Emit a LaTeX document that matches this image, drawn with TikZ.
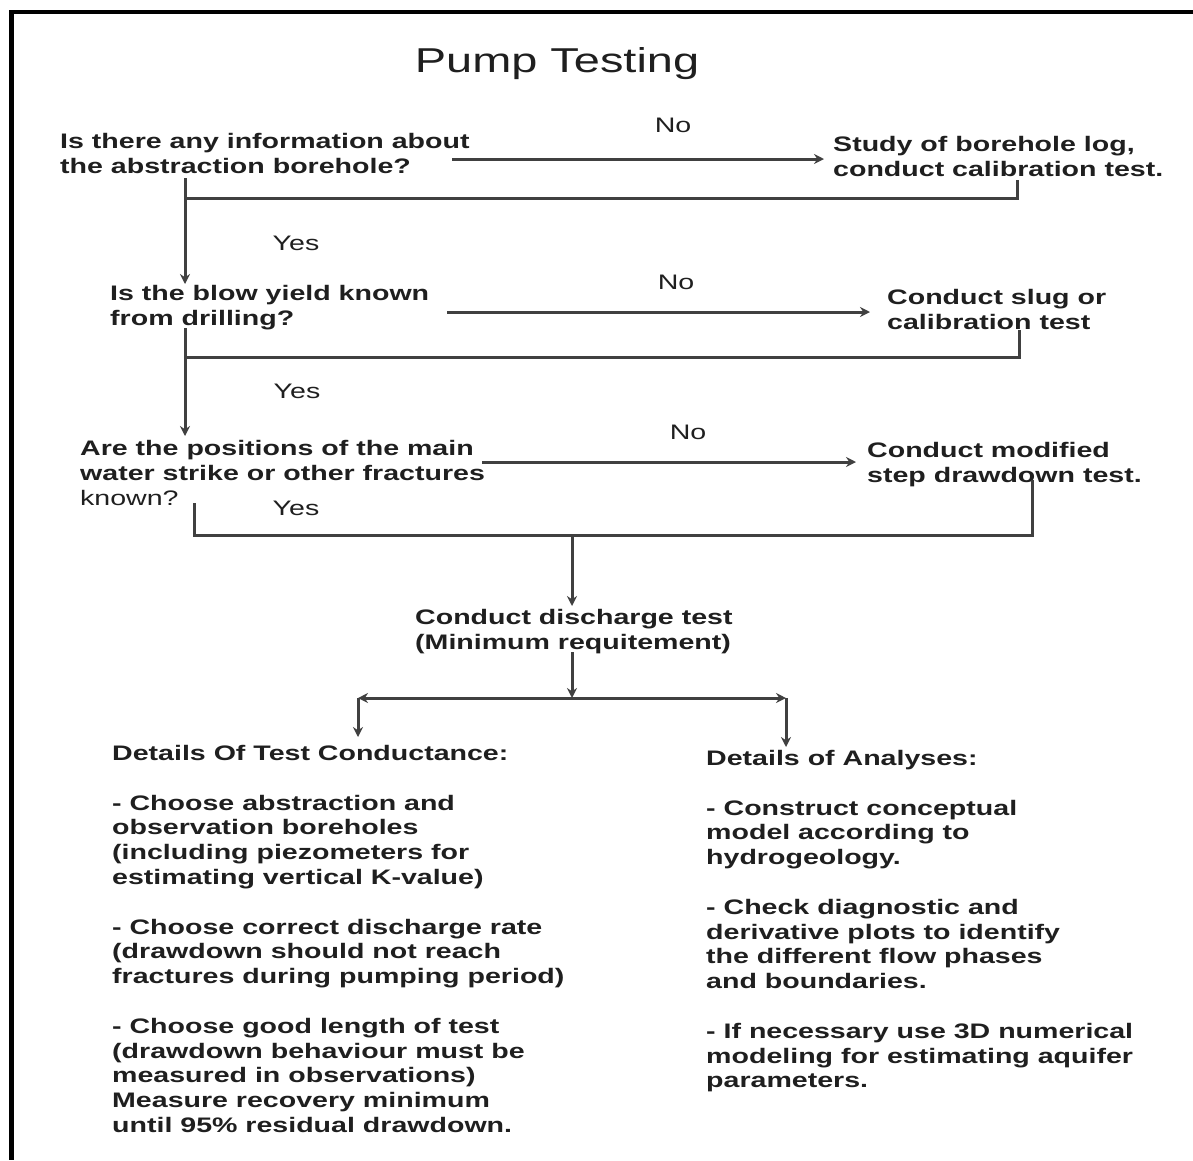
\documentclass[tikz,border=0pt]{standalone}
\usepackage{fontspec}
\setmainfont{Liberation Sans}[FakeStretch=1.36]
\usetikzlibrary{arrows.meta}
\begin{document}
\begin{tikzpicture}[x=1pt,y=-1pt,
  txt/.style={font=\fontsize{21}{24.8}\selectfont\bfseries, align=left, inner sep=0pt, anchor=north west, text=black!88},
  lbl/.style={font=\fontsize{21}{24.8}\selectfont, inner sep=0pt, anchor=base, text=black!88},
  ttl/.style={font=\fontsize{34.5}{40}\selectfont, inner sep=0pt, anchor=base, text=black!88},
  ln/.style={line width=3pt, draw=black!75},
  arr/.style={ln, -{Stealth[length=10pt,width=10pt]}},
  frm/.style={line width=4.3pt, draw=black}]
\useasboundingbox (0,0) rectangle (1193,1160);
% frame (top and left sides)
\draw[frm] (10,12) -- (1193,12);
\draw[frm] (11.5,10) -- (11.5,1160);

% title
\node[ttl] (title) at (557,72.5) {Pump Testing};

% questions and actions
\node[txt] (q1) at (60,133) {Is there any information about\\the abstraction borehole?};
\node[txt] (r1) at (833,136) {Study of borehole log,\\conduct calibration test.};
\node[txt] (q2) at (110,285) {Is the blow yield known\\from drilling?};
\node[txt] (r2) at (887,289) {Conduct slug or\\calibration test};
\node[txt] (q3) at (80,440) {Are the positions of the main\\water strike or other fractures\\\mdseries known?};
\node[txt] (r3) at (867,442) {Conduct modified\\step drawdown test.};
\node[txt] (dis) at (415,609) {Conduct discharge test\\(Minimum requitement)};

% labels
\node[lbl] (no1) at (673,132) {No};
\node[lbl] (yes1) at (296,250.5) {Yes};
\node[lbl] (no2) at (676,289.5) {No};
\node[lbl] (yes2) at (297,398) {Yes};
\node[lbl] (no3) at (688,439) {No};
\node[lbl] (yes3) at (296,515) {Yes};

% details
\node[txt] (det1) at (112,745) {Details Of Test Conductance:\\[24.8pt]
- Choose abstraction and\\
observation boreholes\\
(including piezometers for\\
estimating vertical K-value)\\[24.8pt]
- Choose correct discharge rate\\
(drawdown should not reach\\
fractures during pumping period)\\[24.8pt]
- Choose good length of test\\
(drawdown behaviour must be\\
measured in observations)\\
Measure recovery minimum\\
until 95\% residual drawdown.};
\node[txt] (det2) at (706,750) {Details of Analyses:\\[24.8pt]
- Construct conceptual\\
model according to\\
hydrogeology.\\[24.8pt]
- Check diagnostic and\\
derivative plots to identify\\
the different flow phases\\
and boundaries.\\[24.8pt]
- If necessary use 3D numerical\\
modeling for estimating aquifer\\
parameters.};

% connector coordinates
\coordinate (q1a) at (452,159);
\coordinate (r1a) at (824,159);
\coordinate (q1b) at (185,178);
\coordinate (q2t) at (185,284);
\coordinate (r1b) at (1017,180);
\coordinate (j1) at (185,198);

\coordinate (q2a) at (447,312);
\coordinate (r2a) at (870,312);
\coordinate (q2b) at (185,328);
\coordinate (q3t) at (185,436);
\coordinate (r2b) at (1019,330);
\coordinate (j2) at (185,357);

\coordinate (q3a) at (482,462);
\coordinate (r3a) at (856,462);
\coordinate (q3b) at (194,503);
\coordinate (jl) at (194,535);
\coordinate (jm) at (572,535);
\coordinate (jr) at (1032,535);
\coordinate (r3b) at (1032,480);

\coordinate (dist) at (572,606);
\coordinate (disb) at (572,652);
\coordinate (sp) at (572,698);
\coordinate (spl) at (358,698);
\coordinate (spr) at (786,698);
\coordinate (d1t) at (358,737);
\coordinate (d2t) at (786,747);

% connectors
\draw[arr] (q1a) -- (r1a);
\draw[ln] (r1b) |- (j1);
\draw[arr] (q1b) -- (q2t);

\draw[arr] (q2a) -- (r2a);
\draw[ln] (r2b) |- (j2);
\draw[arr] (q2b) -- (q3t);

\draw[arr] (q3a) -- (r3a);
\draw[ln] (q3b) -- (jl) -- (jr) -- (r3b);
\draw[arr] (jm) -- (dist);

\draw[arr] (disb) -- (sp);
\draw[arr] (sp) -- (spl);
\draw[arr] (sp) -- (spr);
\draw[arr] (spl) -- (d1t);
\draw[arr] (spr) -- (d2t);
\end{tikzpicture}
\end{document}
